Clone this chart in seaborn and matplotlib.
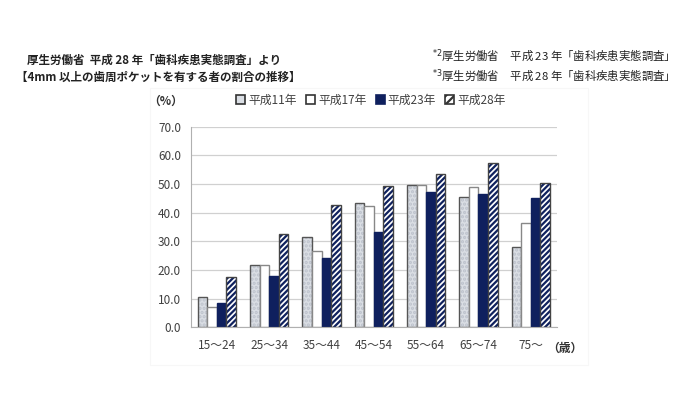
import matplotlib
matplotlib.use("Agg")
import matplotlib.pyplot as plt
import seaborn as sb
import pandas as pd
from matplotlib.patches import Patch, Rectangle

ageGroups = ["15〜24", "25〜34", "35〜44", "45〜54", "55〜64", "65〜74", "75〜"]
surveyYears = ["平成11年", "平成17年", "平成23年", "平成28年"]
h11 = [10.6, 21.8, 31.4, 43.5, 49.8, 45.4, 28.0]
h17 = [7.2, 21.8, 26.7, 42.2, 49.8, 48.9, 36.5]
h23 = [8.6, 17.9, 24.3, 33.4, 47.2, 46.5, 45.0]
h28 = [17.7, 32.6, 42.6, 49.3, 53.5, 57.4, 50.5]

faceColors = ["#dadee4", "#ffffff", "#0f205e", "#ffffff"]
hatchList = ["....", "", "", "//////"]
edgeColors = ["#555555", "#888888", "#0f205e", "#444444"]

#Long-form table for seaborn
rows = []
for yr, vals in zip(surveyYears, [h11, h17, h23, h28]):
    for grp, v in zip(ageGroups, vals):
        rows.append({"age": grp, "year": yr, "value": v})
df = pd.DataFrame(rows)

sb.set_style("white")
plt.rcParams['font.family'] = ['Noto Sans CJK JP', 'DejaVu Sans']
plt.rcParams['hatch.linewidth'] = 1.6

fig = plt.figure(figsize=(6.91, 3.98), dpi=100)
ax = fig.add_axes([0.276, 0.1774, 0.530, 0.5043])

sb.barplot(data=df, x="age", y="value", hue="year", order=ageGroups, hue_order=surveyYears,
           palette=faceColors, width=0.73, gap=0, ax=ax, legend=False, saturation=1)

#Style each series: hatch, edge
hatchColors = [(0.74, 0.76, 0.80, 1), None, None, (0.06, 0.13, 0.37, 1)]
for i, cont in enumerate(ax.containers):
    for bar in cont:
        bar.set_facecolor(faceColors[i])
        bar.set_hatch(hatchList[i])
        bar.set_edgecolor(edgeColors[i])
        bar.set_linewidth(1.0)
        if hatchColors[i] is not None:
            bar._hatch_color = hatchColors[i]

ax.set_ylim(0, 70)
ax.set_yticks(range(0, 71, 10))
ax.set_yticklabels(["%.1f" % v for v in range(0, 71, 10)])
ax.set_xlim(-0.5, len(ageGroups) - 0.5)
ax.set_xlabel("")
ax.set_ylabel("")
ax.yaxis.grid(True, color="#d0d0d0", linewidth=0.9)
ax.set_axisbelow(True)
for s in ["top", "right"]:
    ax.spines[s].set_visible(False)
ax.spines["left"].set_color("#b0b0b0")
ax.spines["bottom"].set_color("#b0b0b0")
ax.tick_params(axis="y", length=5, color="#b0b0b0", labelsize=8.5, labelcolor="#404040", pad=2)
ax.tick_params(axis="x", length=0, labelsize=8.5, labelcolor="#404040", pad=8)
ax.set_xticks([i - 0.5 for i in range(len(ageGroups) + 1)], minor=True)
ax.tick_params(axis="x", which="minor", length=5, color="#b0b0b0")

#Legend
handles = [Patch(facecolor=faceColors[i], edgecolor="#333333" if i != 2 else faceColors[2],
                 hatch="" if i != 3 else "////", linewidth=1.2) for i in range(4)]
leg = fig.legend(handles, surveyYears, loc="center", bbox_to_anchor=(0.537, 0.748), ncol=4,
                 frameon=False, fontsize=8.5, handlelength=0.75, handleheight=0.75,
                 handletextpad=0.25, columnspacing=0.8)
for t in leg.get_texts():
    t.set_color("#404040")

fig.text(0.240, 0.746, "（%）", fontsize=8.5, ha="center", va="center", color="#333333", weight="bold")
fig.text(0.818, 0.125, "（歳）", fontsize=8.5, ha="center", va="center", color="#333333", weight="bold")

#Faint chart frame
fig.patches.append(Rectangle((0.217, 0.083), 0.634, 0.697, transform=fig.transFigure,
                             fill=False, edgecolor="#f7f7f7", linewidth=0.8))

#Header texts
fig.text(0.223, 0.849, "厚生労働省  平成 28 年「歯科疾患実態調査」より", fontsize=8.3,
         ha="center", va="center", weight="bold", color="#222222")
fig.text(0.229, 0.806, "【4mm 以上の歯周ポケットを有する者の割合の推移】", fontsize=8.3,
         ha="center", va="center", weight="bold", color="#222222")
fig.text(0.970, 0.862, r"$^{*2}$厚生労働省　平成 23 年「歯科疾患実態調査」", fontsize=8.2,
         ha="right", va="center", color="#222222")
fig.text(0.970, 0.812, r"$^{*3}$厚生労働省　平成 28 年「歯科疾患実態調査」", fontsize=8.2,
         ha="right", va="center", color="#222222")

fig.savefig("out.png", dpi=100)
